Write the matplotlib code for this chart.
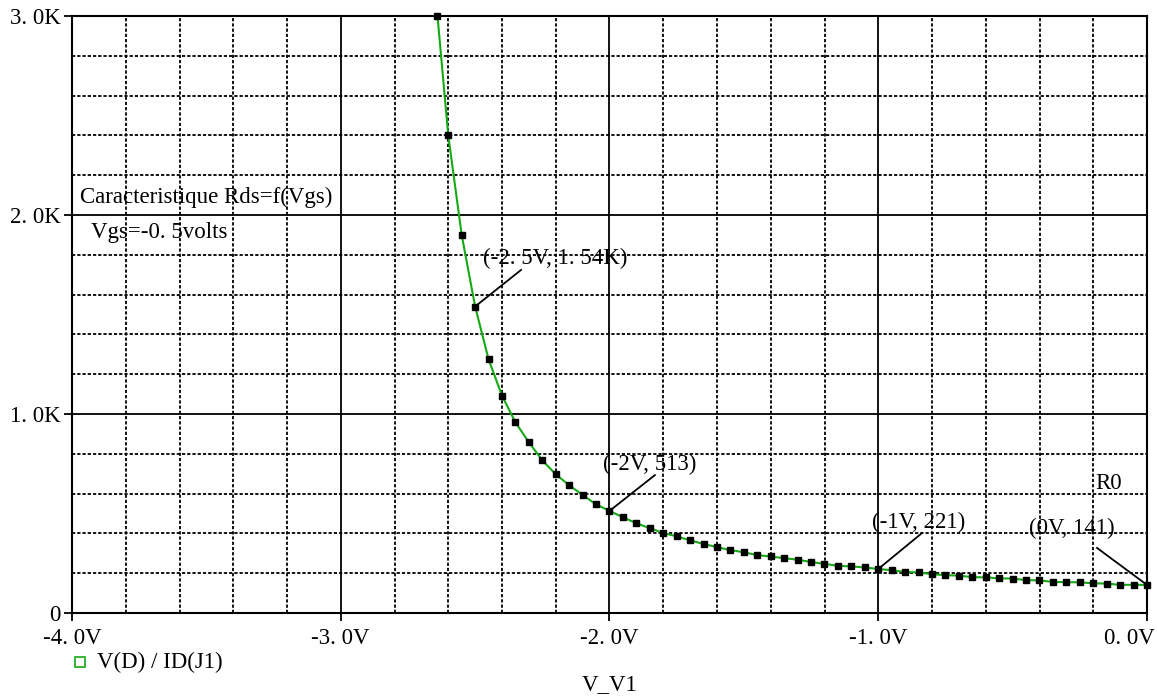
import numpy as np
import matplotlib
matplotlib.use("Agg")
import matplotlib.pyplot as plt
import matplotlib.transforms as mtransforms
from matplotlib.lines import Line2D

# Sweep of V_V1 (volts) and the resulting Rds = V(D)/ID(J1) (ohms)
vgs = [-2.64, -2.60, -2.55, -2.50, -2.45, -2.40, -2.35, -2.30, -2.25, -2.20,
       -2.15, -2.10, -2.05, -2.00, -1.95, -1.90, -1.85, -1.80, -1.75, -1.70,
       -1.65, -1.60, -1.55, -1.50, -1.45, -1.40, -1.35, -1.30, -1.25, -1.20,
       -1.15, -1.10, -1.05, -1.00, -0.95, -0.90, -0.85, -0.80, -0.75, -0.70,
       -0.65, -0.60, -0.55, -0.50, -0.45, -0.40, -0.35, -0.30, -0.25, -0.20,
       -0.15, -0.10, -0.05, 0.00]
rds = [3000, 2400, 1900, 1540, 1275, 1092, 958, 858, 767, 697,
       642, 593, 546, 513, 481, 451, 426, 402, 385, 365,
       347, 331, 316, 305, 291, 284, 275, 268, 256, 247,
       237, 234, 229, 221, 215, 206, 204, 195, 190, 188,
       180, 179, 174, 173, 165, 164, 156, 155, 154, 149,
       148, 141, 142, 141]

x_ticks = [-4, -3, -2, -1, 0]
x_labels = ["-4. 0V", "-3. 0V", "-2. 0V", "-1. 0V", "0. 0V"]
y_ticks = [0, 1000, 2000, 3000]
y_labels = ["0", "1. 0K", "2. 0K", "3. 0K"]

# cursor labels: (point x, point y, text x, text y, line end x, line end y, label)
cursors = [
    (-2.5, 1540, -2.471, 1784, -2.329, 1724, "(-2. 5V, 1. 54K)"),
    (-2.0, 513, -2.024, 744, -1.831, 693, "(-2V, 513)"),
    (-1.0, 221, -1.023, 457, -0.837, 402, "(-1V, 221)"),
    (0.0, 141, -0.439, 427, -0.186, 327, "(0V, 141)"),
]

plt.rcParams['font.family'] = ['Liberation Serif', 'DejaVu Serif']
FS = 16.5
green = '#14AA14'

W, H = 1157, 698
fig = plt.figure(figsize=(W / 100, H / 100), dpi=100)
ax = fig.add_axes([72 / W, 1 - 613 / H, 1075 / W, 597 / H])

ax.set_xlim(-4, 0)
ax.set_ylim(0, 3000)

# grid: solid majors, dotted minors
ax.set_xticks(np.arange(-4, 0.01, 0.2), minor=True)
ax.set_yticks(np.arange(0, 3001, 200), minor=True)
ax.grid(which='major', color='black', linewidth=1.3, linestyle='-')
ax.grid(which='minor', color='black', linewidth=1.3, linestyle=(0, (1.8, 1.1)))
ax.set_axisbelow(True)

ax.set_xticks(x_ticks)
ax.set_xticklabels(x_labels, fontsize=FS)
ax.set_yticks(y_ticks)
ax.set_yticklabels(y_labels, fontsize=FS)
ax.tick_params(which='major', direction='out', length=6, width=1.3, color='black')
ax.tick_params(axis='x', pad=5)
ax.tick_params(axis='y', pad=2)
ax.tick_params(which='minor', length=0)
for s in ax.spines.values():
    s.set_linewidth(1.5)
    s.set_color('black')

# the last x label is pulled inside the figure, as in the original
last = ax.get_xticklabels()[-1]
last.set_horizontalalignment('right')
last.set_transform(last.get_transform() +
                   mtransforms.ScaledTranslation(8 / 100, 0, fig.dpi_scale_trans))

ax.plot(vgs, rds, color=green, linewidth=1.5, zorder=3)
ax.plot(vgs, rds, linestyle='none', marker='s', markersize=3.8,
        color='black', zorder=4, clip_on=False)

for px, py, tx, ty, lx, ly, lab in cursors:
    ax.plot([px, lx], [py, ly], color='black', linewidth=1.3, zorder=5)
    ax.text(tx, ty, lab, fontsize=FS, ha='left', va='center', zorder=6)

ax.text(-0.193, 653, "R0", fontsize=FS, ha='left', va='center')
ax.text(-3.970, 2090, "Caracteristique Rds=f(Vgs)", fontsize=FS, ha='left', va='center')
ax.text(-3.929, 1910, "Vgs=-0. 5volts", fontsize=FS, ha='left', va='center')

# legend entry and x label below the plot
fig.add_artist(Line2D([80 / W], [1 - 662 / H], marker='s', markersize=6.5,
                      markerfacecolor='white', markeredgecolor=green,
                      markeredgewidth=1.2, linestyle='none'))
fig.text(97 / W, 1 - 662 / H, "V(D) / ID(J1)", fontsize=FS, ha='left', va='center')
fig.text(610 / W, 1 - 685 / H, "V_V1", fontsize=FS, ha='center', va='center')

fig.savefig("out.png", dpi=100)
